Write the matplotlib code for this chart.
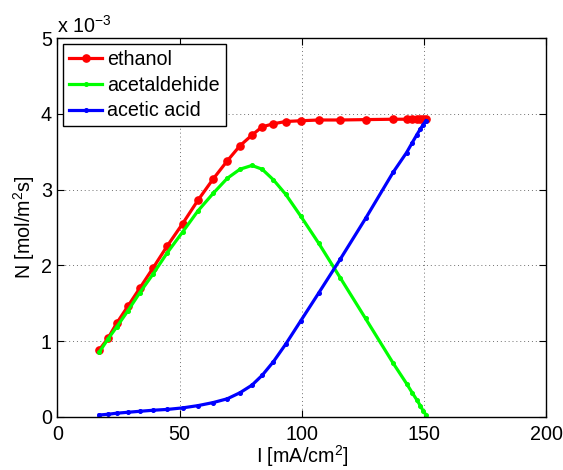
import numpy as np
import matplotlib.pyplot as plt

plt.rcParams['font.family'] = ['Liberation Sans', 'DejaVu Sans']
plt.rcParams['mathtext.fontset'] = 'custom'
plt.rcParams['mathtext.rm'] = 'Liberation Sans'
plt.rcParams['mathtext.it'] = 'Liberation Sans:italic'

# current density [mA/cm2]
I = [17.1, 20.7, 24.3, 28.8, 33.7, 39.2, 45.0, 51.2, 57.5, 63.7, 69.5, 74.7,
     79.6, 83.8, 88.4, 93.4, 99.6, 107.0, 115.7, 126.1, 137.4, 142.9, 145.2,
     147.0, 148.5, 149.7, 150.8]

# fluxes in units of 1e-3 mol/m2s
ethanol = [0.885, 1.04, 1.24, 1.46, 1.70, 1.97, 2.26, 2.55, 2.86, 3.14, 3.38,
           3.58, 3.72, 3.83, 3.87, 3.90, 3.91, 3.92, 3.92, 3.925, 3.93, 3.93,
           3.93, 3.93, 3.93, 3.93, 3.93]
acetaldehide = [0.855, 1.03, 1.19, 1.40, 1.64, 1.89, 2.17, 2.44, 2.72, 2.95,
                3.15, 3.27, 3.32, 3.27, 3.13, 2.94, 2.65, 2.29, 1.84, 1.30,
                0.71, 0.44, 0.32, 0.23, 0.15, 0.08, 0.03]
acetic = [0.026, 0.036, 0.05, 0.062, 0.075, 0.089, 0.10, 0.12, 0.15, 0.19,
          0.24, 0.32, 0.42, 0.55, 0.73, 0.96, 1.27, 1.64, 2.08, 2.62, 3.23,
          3.49, 3.62, 3.72, 3.80, 3.86, 3.91]

fs = 14.2

fig = plt.figure(figsize=(5.63, 4.70), dpi=100)
ax = fig.add_axes([0.102, 0.1128, 0.868, 0.806])

ax.plot(I, ethanol, color=(1, 0, 0), lw=2.3, marker='o', ms=5.2, label='ethanol')
ax.plot(I, acetaldehide, color=(0, 1, 0), lw=2.3, marker='o', ms=2.6, label='acetaldehide')
ax.plot(I, acetic, color=(0, 0, 1), lw=2.3, marker='o', ms=2.6, label='acetic acid')

ax.set_xlim(0, 200)
ax.set_ylim(0, 5)
ax.set_xticks([0, 50, 100, 150, 200])
ax.set_yticks([0, 1, 2, 3, 4, 5])
ax.grid(True, color='#707070', linestyle=(0, (1, 3)), linewidth=0.7)
ax.tick_params(direction='in', top=True, right=True, length=5, labelsize=fs)
ax.tick_params(axis='x', pad=6)
ax.tick_params(axis='y', pad=4)
for s in ax.spines.values():
    s.set_linewidth(1.0)

ax.text(0.0, 1.003, r'x 10$^{-3}$', transform=ax.transAxes, fontsize=fs, ha='left', va='bottom')
ax.set_xlabel(r'I [mA/cm$^2$]', fontsize=fs, labelpad=-1)
ax.set_ylabel(r'N [mol/m$^2$s]', fontsize=fs, labelpad=3)

leg = ax.legend(loc='upper left', fontsize=fs, fancybox=False, edgecolor='black',
                framealpha=1, borderaxespad=0.28, handlelength=1.7, handletextpad=0.25,
                labelspacing=0.35, borderpad=0.3)
leg.get_frame().set_linewidth(1.0)

fig.savefig('out.png', dpi=100)
